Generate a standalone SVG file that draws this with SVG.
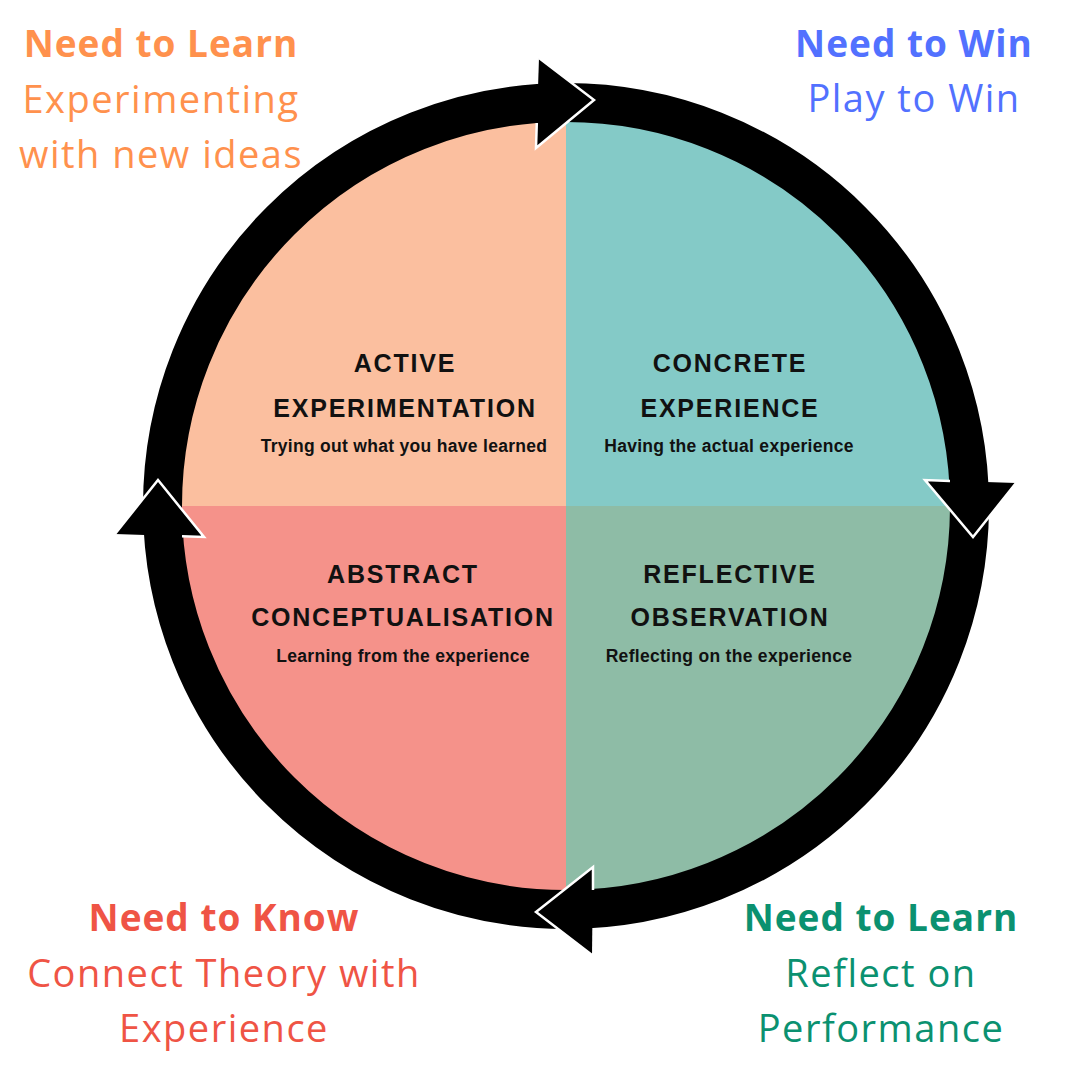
<svg xmlns="http://www.w3.org/2000/svg" width="1080" height="1080" viewBox="0 0 1080 1080">
  <style>
    .title { font-family: "Liberation Sans", Arial, sans-serif; font-weight: bold; font-size: 25px; letter-spacing: 1.8px; fill: #111111; text-anchor: middle; }
    .sub { font-family: "Liberation Sans", Arial, sans-serif; font-weight: bold; font-size: 17.5px; letter-spacing: 0.3px; fill: #111111; text-anchor: middle; }
    .head { font-family: "Open Sans", "Noto Sans", sans-serif; font-weight: bold; font-size: 37px; letter-spacing: 1px; text-anchor: middle; }
    .body { font-family: "Open Sans", "Noto Sans", sans-serif; font-weight: normal; font-size: 38px; letter-spacing: 1.5px; text-anchor: middle; }
    .ring { fill: none; stroke: #000000; stroke-width: 39; }
    .head-fill { fill: #000000; }
    .edge { fill: none; stroke: #ffffff; stroke-width: 2.5; stroke-linejoin: miter; }
  </style>
  <rect width="1080" height="1080" fill="#ffffff"/>

  <g id="active-experimentation">
    <path d="M566,506 L181,506 A385,385 0 0 1 566,121 Z" fill="#FBBF9F"/>
    <text class="title" x="405" y="372">ACTIVE</text>
    <text class="title" x="405" y="417">EXPERIMENTATION</text>
    <text class="sub" x="404" y="452">Trying out what you have learned</text>
  </g>
  <g id="concrete-experience">
    <path d="M566,506 L566,121 A385,385 0 0 1 951,506 Z" fill="#84CAC7"/>
    <text class="title" x="730" y="372">CONCRETE</text>
    <text class="title" x="730" y="417">EXPERIENCE</text>
    <text class="sub" x="729" y="452">Having the actual experience</text>
  </g>
  <g id="reflective-observation">
    <path d="M566,506 L951,506 A385,385 0 0 1 566,891 Z" fill="#8EBCA6"/>
    <text class="title" x="730" y="583">REFLECTIVE</text>
    <text class="title" x="730" y="626">OBSERVATION</text>
    <text class="sub" x="729" y="662">Reflecting on the experience</text>
  </g>
  <g id="abstract-conceptualisation">
    <path d="M566,506 L566,891 A385,385 0 0 1 181,506 Z" fill="#F5928A"/>
    <text class="title" x="403" y="583">ABSTRACT</text>
    <text class="title" x="403" y="626">CONCEPTUALISATION</text>
    <text class="sub" x="403" y="662">Learning from the experience</text>
  </g>

  <g id="connectors">
    <circle class="ring" cx="566" cy="506" r="403.5"/>
    <!-- top arrowhead -->
    <polygon class="head-fill" points="539,58 594,100 536,148"/>
    <polyline class="edge" points="539,58 594,100 536,148 536.8,123"/>
    <!-- right arrowhead -->
    <polygon class="head-fill" points="925,480 973,537 1016,483"/>
    <polyline class="edge" points="950,481 925,480 973,537 1016,483"/>
    <!-- bottom arrowhead -->
    <polygon class="head-fill" points="593,867 536,912 592,955"/>
    <polyline class="edge" points="593,890 593,867 536,912 592,955"/>
    <!-- left arrowhead -->
    <polygon class="head-fill" points="115,534 158,480 204,537"/>
    <polyline class="edge" points="115,534 158,480 204,537 182,536.3"/>
  </g>

  <g id="label-need-to-learn-top">
    <text class="head" x="161" y="57" fill="#FF914D">Need to Learn</text>
    <text class="body" x="161" y="113" fill="#FF914D">Experimenting</text>
    <text class="body" x="161" y="168" fill="#FF914D">with new ideas</text>
  </g>
  <g id="label-need-to-win">
    <text class="head" x="914" y="57" fill="#5271FF">Need to Win</text>
    <text class="body" x="914" y="112" fill="#5271FF">Play to Win</text>
  </g>
  <g id="label-need-to-know">
    <text class="head" x="224" y="931" fill="#EF5445">Need to Know</text>
    <text class="body" x="224" y="987" fill="#EF5445">Connect Theory with</text>
    <text class="body" x="224" y="1042" fill="#EF5445">Experience</text>
  </g>
  <g id="label-need-to-learn-bottom">
    <text class="head" x="881" y="931" fill="#0B9170">Need to Learn</text>
    <text class="body" x="881" y="987" fill="#0B9170">Reflect on</text>
    <text class="body" x="881" y="1042" fill="#0B9170">Performance</text>
  </g>
</svg>
